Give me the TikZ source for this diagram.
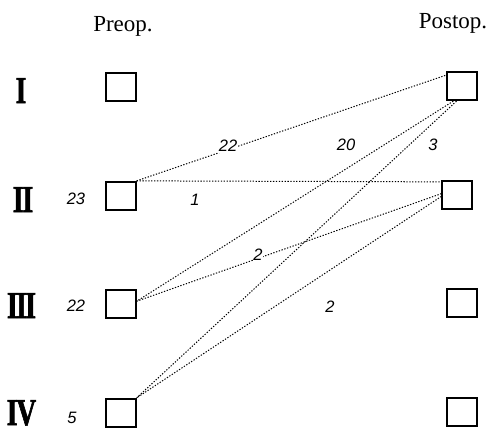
\documentclass[tikz,border=0pt]{standalone}
\usepackage{fontspec}
\setmainfont{Liberation Serif}
\newfontfamily\numfont{Liberation Sans}
\newfontfamily\gradefont[FakeStretch=0.72,FakeBold=1.6]{Liberation Serif Bold}

\begin{document}
\begin{tikzpicture}[x=1pt,y=-1pt,
  stage/.style={draw, line width=1.8pt, minimum width=29.5pt, minimum height=28.5pt, inner sep=0pt},
  flow/.style={line width=1pt, dash pattern=on 1.3pt off 1.6pt},
  count/.style={font=\numfont\itshape\fontsize{16.5}{16.5}\selectfont, inner sep=1pt},
  grade/.style={font=\gradefont\fontsize{38}{38}\selectfont, anchor=base, inner sep=0pt},
  head/.style={font=\fontsize{23}{23}\selectfont, anchor=base, inner sep=0pt}]
\useasboundingbox (0,0) rectangle (490,432);

% column headings
\node[head] (hpre) at (123,31) {Preop.};
\node[head] (hpost) at (453,28) {Postop.};

% grade labels
\node[grade] (g1) at (21,103) {I};
\node[grade] (g2) at (23,212) {I\kern-1pt I};
\node[grade] (g3) at (21.5,318) {I\kern-1.5pt I\kern-1.5pt I};
\node[grade] (g4) at (21.5,425) {I\kern-1pt V};

% preoperative boxes
\node[stage] (pre1) at (121,87) {};
\node[stage] (pre2) at (121,196) {};
\node[stage] (pre3) at (121,304) {};
\node[stage] (pre4) at (121,413) {};

% postoperative boxes
\node[stage] (post1) at (462,86) {};
\node[stage] (post2) at (457,195) {};
\node[stage] (post3) at (462,303) {};
\node[stage] (post4) at (462,412) {};

% preoperative totals
\node[count] (n2) at (76,199) {23};
\node[count] (n3) at (76,306) {22};
\node[count] (n4) at (72,418) {5};

% transitions
\draw[flow] (pre2.north east) -- (post1.145);
\draw[flow] (pre2.north east) -- (post2.140);
\draw[flow] (post1.240) -- (pre3.10);
\draw[flow] (post1.250) -- (pre4.north east);
\draw[flow] (post2.175) -- (pre3.10);
\draw[flow] (post2.185) -- (pre4.north east);

% transition counts
\node[count, fill=white] (c22) at (228,146) {22};
\node[count] (c1) at (195,200) {1};
\node[count] (c20) at (346,145) {20};
\node[count] (c3) at (433,145) {3};
\node[count, fill=white, inner sep=0.5pt] (c2a) at (258,255) {2};
\node[count] (c2b) at (330,307) {2};
\end{tikzpicture}
\end{document}
